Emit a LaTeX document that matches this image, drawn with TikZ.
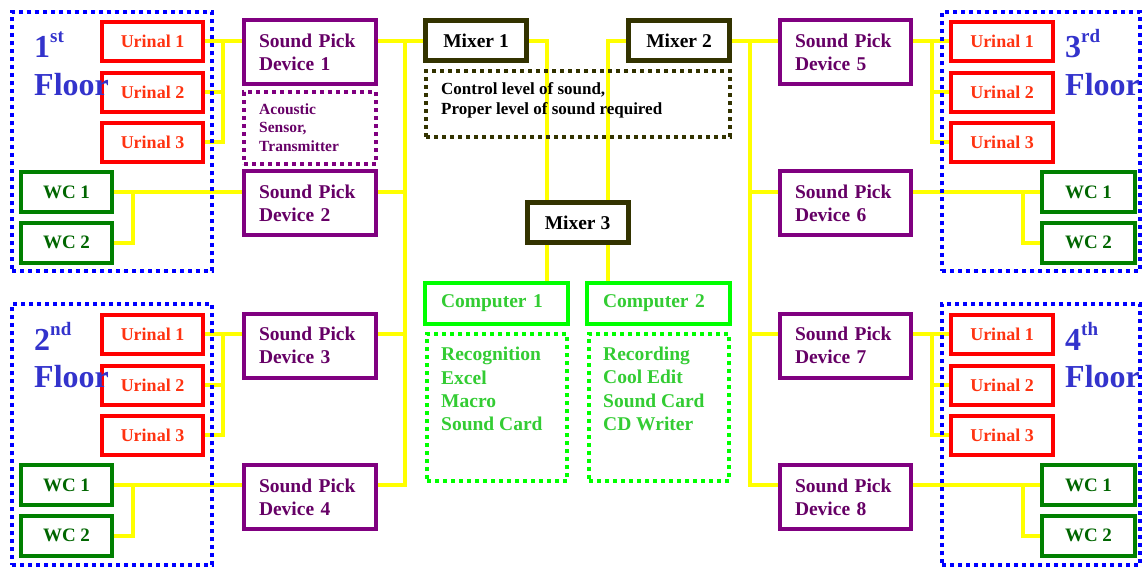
\documentclass[tikz,border=0pt]{standalone}
\usepackage{fontspec}
\setmainfont{Liberation Serif}
\usetikzlibrary{backgrounds}
\definecolor{flblue}{HTML}{0000FF}
\definecolor{fltext}{HTML}{3333CC}
\definecolor{urred}{HTML}{FF0000}
\definecolor{urtext}{HTML}{FF3311}
\definecolor{wcgreen}{HTML}{008000}
\definecolor{wctext}{HTML}{006600}
\definecolor{purp}{HTML}{800080}
\definecolor{purptext}{HTML}{660066}
\definecolor{mixol}{HTML}{333300}
\definecolor{compgreen}{HTML}{00FF00}
\definecolor{comptext}{HTML}{33CC33}
\definecolor{wirey}{HTML}{FFFF00}
\tikzset{
  box/.style={draw, line width=4pt, fill=white, inner sep=0pt},
  urinal/.style={box, draw=urred, text=urtext, minimum width=101pt, minimum height=39pt,
    font=\bfseries\fontsize{18}{20}\selectfont},
  wcbox/.style={box, draw=wcgreen, text=wctext, minimum width=91pt, minimum height=40pt,
    font=\bfseries\fontsize{19}{21}\selectfont},
  spd/.style={box, draw=purp, text=purptext, text width=102pt, inner xsep=15pt, align=left,
    minimum height=64pt, font=\bfseries\fontsize{19.5}{23}\selectfont},
  mixer/.style={box, draw=mixol, line width=5pt, minimum width=101pt, minimum height=40pt,
    font=\bfseries\fontsize{19.5}{22}\selectfont},
  comp/.style={box, draw=compgreen, text=comptext, minimum width=143pt, minimum height=41pt,
    text width=111pt, inner xsep=16pt, align=left, font=\bfseries\fontsize{19.5}{22}\selectfont},
  dotbox/.style={draw, line width=4pt, dash pattern=on 4pt off 4pt, inner sep=0pt},
  floorbox/.style={dotbox, draw=flblue},
  floorlbl/.style={text=fltext, inner sep=0pt, anchor=base west, font=\bfseries\fontsize{32}{38}\selectfont},
  wire/.style={draw=wirey, line width=4pt},
}
\newcommand{\supx}[1]{\raisebox{15pt}{\fontsize{19}{19}\selectfont #1}}
\begin{document}
\begin{tikzpicture}[x=1pt,y=-1pt]
\useasboundingbox (0,0) rectangle (1143,571);
% floor frames
\node[floorbox, minimum width=200pt, minimum height=259pt] (fl1) at (112,141.5) {};
\node[floorbox, minimum width=200pt, minimum height=261pt] (fl2) at (112,434.5) {};
\node[floorbox, minimum width=198pt, minimum height=259pt] (fl3) at (1041,141.5) {};
\node[floorbox, minimum width=198pt, minimum height=261pt] (fl4) at (1041,434.5) {};
% floor 1
\node[urinal] (u11) at (152.5,41) {Urinal 1};
\node[urinal] (u12) at (152.5,92) {Urinal 2};
\node[urinal] (u13) at (152.5,142) {Urinal 3};
\node[wcbox] (w11) at (66.5,192) {WC 1};
\node[wcbox] (w12) at (66.5,242.5) {WC 2};
% floor 2
\node[urinal] (u21) at (152.5,334) {Urinal 1};
\node[urinal] (u22) at (152.5,385) {Urinal 2};
\node[urinal] (u23) at (152.5,435) {Urinal 3};
\node[wcbox] (w21) at (66.5,485) {WC 1};
\node[wcbox] (w22) at (66.5,535.5) {WC 2};
% floor 3
\node[urinal, minimum width=102pt] (u31) at (1002,41) {Urinal 1};
\node[urinal, minimum width=102pt] (u32) at (1002,92) {Urinal 2};
\node[urinal, minimum width=102pt] (u33) at (1002,142) {Urinal 3};
\node[wcbox, minimum width=93pt] (w31) at (1088.5,192) {WC 1};
\node[wcbox, minimum width=93pt] (w32) at (1088.5,242.5) {WC 2};
% floor 4
\node[urinal, minimum width=102pt] (u41) at (1002,334) {Urinal 1};
\node[urinal, minimum width=102pt] (u42) at (1002,385) {Urinal 2};
\node[urinal, minimum width=102pt] (u43) at (1002,435) {Urinal 3};
\node[wcbox, minimum width=93pt] (w41) at (1088.5,485) {WC 1};
\node[wcbox, minimum width=93pt] (w42) at (1088.5,535.5) {WC 2};
% sound pick devices
\node[spd] (sp1) at (310,52) {Sound Pick\\Device 1};
\node[spd] (sp2) at (310,203) {Sound Pick\\Device 2};
\node[spd] (sp3) at (310,345.5) {Sound Pick\\Device 3};
\node[spd] (sp4) at (310,497) {Sound Pick\\Device 4};
\node[spd, text width=101pt] (sp5) at (845.5,52) {Sound Pick\\Device 5};
\node[spd, text width=101pt] (sp6) at (845.5,203) {Sound Pick\\Device 6};
\node[spd, text width=101pt] (sp7) at (845.5,345.5) {Sound Pick\\Device 7};
\node[spd, text width=101pt] (sp8) at (845.5,497) {Sound Pick\\Device 8};
% acoustic sensor
\node[dotbox, draw=purp, minimum width=132pt, minimum height=72pt] (acb) at (310,128) {};
\node[text=purptext, align=left, anchor=west, inner sep=0pt,
  font=\bfseries\fontsize{15.5}{18.5}\selectfont] (act) at (259,127.5) {Acoustic\\Sensor,\\Transmitter};
% mixers
\node[mixer] (m1) at (476,40.5) {Mixer 1};
\node[mixer] (m2) at (679,40.5) {Mixer 2};
\node[mixer] (m3) at (577.5,222.5) {Mixer 3};
\node[dotbox, draw=mixol, minimum width=304pt, minimum height=66pt] (ctl) at (578,104) {};
% computers
\node[comp] (c1) at (496.5,303.5) {Computer 1};
\node[comp] (c2) at (658.5,303.5) {Computer 2};
\node[dotbox, draw=compgreen, minimum width=140pt, minimum height=147pt] (l1) at (497,407.5) {};
\node[dotbox, draw=compgreen, minimum width=140pt, minimum height=147pt] (l2) at (659,407.5) {};
\node[text=comptext, align=left, anchor=west, inner sep=0pt,
  font=\bfseries\fontsize{19.5}{23.3}\selectfont] (l1t) at (441,389) {Recognition\\Excel\\Macro\\Sound Card};
\node[text=comptext, align=left, anchor=west, inner sep=0pt,
  font=\bfseries\fontsize{19.5}{23.3}\selectfont] (l2t) at (603,389) {Recording\\Cool Edit\\Sound Card\\CD Writer};
% bus coordinates
\coordinate (lbx) at (405,0);
\coordinate (rbx) at (750,0);
\coordinate (ma) at (547,0);
\coordinate (mb) at (608,0);
\coordinate (b1) at (223,41);
\coordinate (b2) at (223,334);
\coordinate (b3) at (932,41);
\coordinate (b4) at (932,334);
\coordinate (v1) at (133,192);
\coordinate (v2) at (133,485);
\coordinate (v3) at (1023,192);
\coordinate (v4) at (1023,485);
\begin{pgfonlayer}{background}
  % floor 1
  \draw[wire] (u11.east) -- (u11.east -| sp1.west);
  \draw[wire] (u12.east) -- (u12.east -| b1);
  \draw[wire] (u13.east) -| (b1);
  \draw[wire] (w11.east) -- (w11.east -| sp2.west);
  \draw[wire] (w12.east) -| (v1);
  % floor 2
  \draw[wire] (u21.east) -- (u21.east -| sp3.west);
  \draw[wire] (u22.east) -- (u22.east -| b2);
  \draw[wire] (u23.east) -| (b2);
  \draw[wire] (w21.east) -- (w21.east -| sp4.west);
  \draw[wire] (w22.east) -| (v2);
  % floor 3
  \draw[wire] (u31.west) -- (u31.west -| sp5.east);
  \draw[wire] (u32.west) -- (u32.west -| b3);
  \draw[wire] (u33.west) -| (b3);
  \draw[wire] (w31.west) -- (w31.west -| sp6.east);
  \draw[wire] (w32.west) -| (v3);
  % floor 4
  \draw[wire] (u41.west) -- (u41.west -| sp7.east);
  \draw[wire] (u42.west) -- (u42.west -| b4);
  \draw[wire] (u43.west) -| (b4);
  \draw[wire] (w41.west) -- (w41.west -| sp8.east);
  \draw[wire] (w42.west) -| (v4);
  % left bus
  \draw[wire] (m1.west) -- (lbx |- m1.west) -- (lbx |- w21.east) -- (w21.east -| sp4.east);
  \draw[wire] (u11.east -| sp1.east) -- (lbx |- u11.east);
  \draw[wire] (w11.east -| sp2.east) -- (lbx |- w11.east);
  \draw[wire] (u21.east -| sp3.east) -- (lbx |- u21.east);
  % right bus
  \draw[wire] (m2.east) -- (rbx |- m2.east) -- (rbx |- w41.west) -- (w41.west -| sp8.west);
  \draw[wire] (u31.west -| sp5.west) -- (rbx |- u31.west);
  \draw[wire] (w31.west -| sp6.west) -- (rbx |- w31.west);
  \draw[wire] (u41.west -| sp7.west) -- (rbx |- u41.west);
  % mixers
  \draw[wire] (m1.east) -| (ma |- m3.north);
  \draw[wire] (m2.west) -| (mb |- m3.north);
  \draw[wire] (ma |- m3.south) -- (ma |- c1.north);
  \draw[wire] (mb |- m3.south) -- (mb |- c2.north);
\end{pgfonlayer}
\node[align=left, anchor=west, inner sep=0pt,
  font=\bfseries\fontsize{17}{20}\selectfont] (ctlt) at (441,100) {Control level of sound,\\Proper level of sound required};
% floor labels
\node[floorlbl] (f1a) at (34,57) {1\supx{st}};
\node[floorlbl] (f1b) at (34,95) {Floor};
\node[floorlbl] (f2a) at (34,350) {2\supx{nd}};
\node[floorlbl] (f2b) at (34,387) {Floor};
\node[floorlbl] (f3a) at (1065,57) {3\supx{rd}};
\node[floorlbl] (f3b) at (1065,95) {Floor};
\node[floorlbl] (f4a) at (1065,350) {4\supx{th}};
\node[floorlbl] (f4b) at (1065,387) {Floor};
\end{tikzpicture}
\end{document}
